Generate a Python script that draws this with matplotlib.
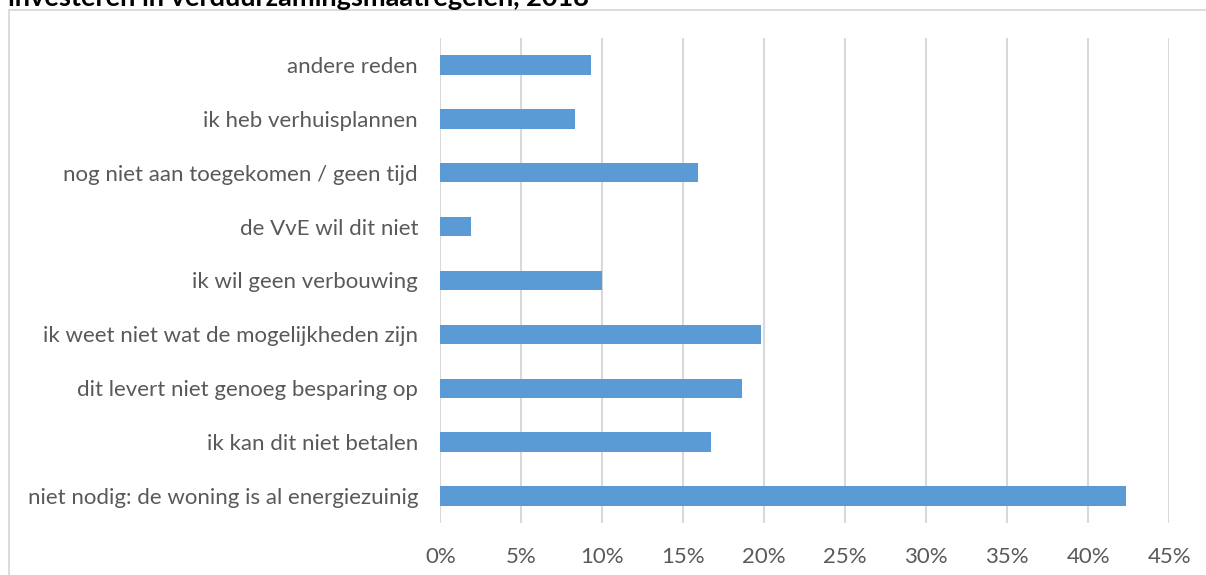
import matplotlib.pyplot as plt
from matplotlib.patches import Rectangle
from matplotlib.ticker import FuncFormatter

# data (bottom to top)
categories = [
    "niet nodig: de woning is al energiezuinig",
    "ik kan dit niet betalen",
    "dit levert niet genoeg besparing op",
    "ik weet niet wat de mogelijkheden zijn",
    "ik wil geen verbouwing",
    "de VvE wil dit niet",
    "nog niet aan toegekomen / geen tijd",
    "ik heb verhuisplannen",
    "andere reden",
]
values = [42.3, 16.7, 18.6, 19.8, 10.0, 1.9, 15.9, 8.3, 9.3]
xticks = [0, 5, 10, 15, 20, 25, 30, 35, 40, 45]
title = "investeren in verduurzamingsmaatregelen, 2018"

plt.rcParams['font.family'] = ['Lato', 'DejaVu Sans']

fig = plt.figure(figsize=(12.06, 5.75), dpi=100)
ax = fig.add_axes([440.3 / 1206, 1 - 523 / 575, 729 / 1206, 485 / 575])

# chart frame
fig.patches.append(Rectangle((9 / 1206, -0.05), 1.1, 1 - 9.5 / 575 + 0.05,
                             transform=fig.transFigure, fill=False,
                             edgecolor='#D9D9D9', linewidth=1.3))

ax.barh(range(len(categories)), values, height=0.36, color='#5B9BD5', zorder=3)

ax.set_xlim(0, 45)
ax.set_ylim(-0.5, len(categories) - 0.5)
ax.set_xticks(xticks)
ax.xaxis.set_major_formatter(FuncFormatter(lambda v, p: f"{v:.0f}%"))
ax.set_yticks(range(len(categories)))
ax.set_yticklabels(categories)

ax.grid(axis='x', color='#D9D9D9', linewidth=1.5, zorder=0)
for s in ax.spines.values():
    s.set_visible(False)
ax.tick_params(axis='both', length=0, labelsize=16, colors='#595959')
ax.tick_params(axis='x', pad=17)
ax.tick_params(axis='y', pad=16)
ax.set_facecolor('none')

fig.text(8 / 1206, 1 - 6 / 575, title, fontsize=19.5, fontweight='bold',
         color='black', va='baseline', ha='left')

fig.savefig("out.png", dpi=100)
